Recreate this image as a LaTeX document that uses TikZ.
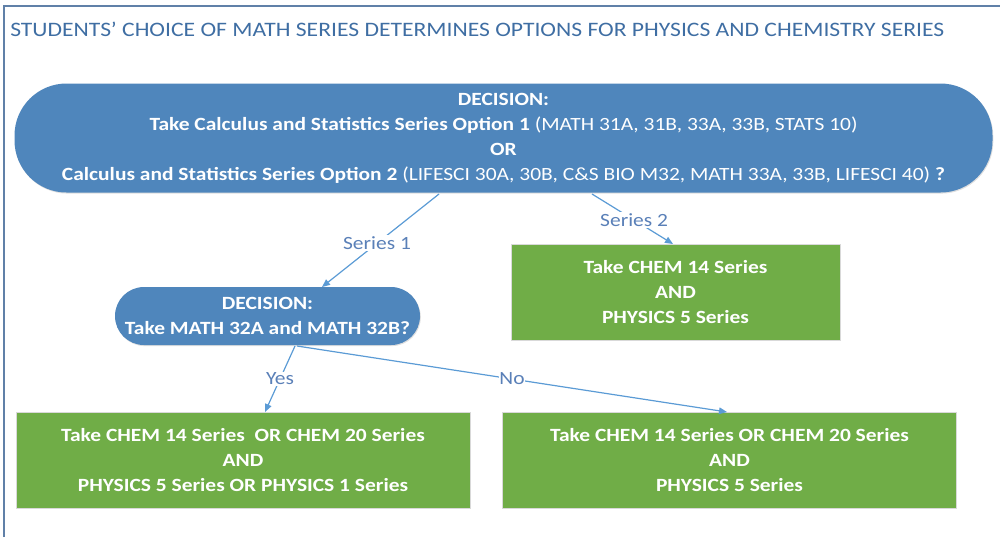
\documentclass[tikz,border=0pt]{standalone}
\usepackage{fontspec}
\setmainfont[FakeStretch=1.15]{Carlito}
\usetikzlibrary{shadows,arrows.meta}
\definecolor{frameblue}{HTML}{6080A8}
\definecolor{titleblue}{HTML}{3F6EA3}
\definecolor{pillblue}{HTML}{4F86BC}
\definecolor{boxgreen}{HTML}{70AD47}
\definecolor{linkblue}{HTML}{5B9BD5}
\definecolor{labelblue}{HTML}{5A80B8}
\tikzset{
  decision/.style={fill=pillblue, text=white, font=\bfseries\fontsize{14}{18.75}\selectfont, align=center, inner sep=0pt,
    drop shadow={opacity=0.25, shadow xshift=0.6pt, shadow yshift=-0.8pt}},
  greenbox/.style={fill=boxgreen, text=white, font=\bfseries\fontsize{14}{18.75}\selectfont, align=center, inner sep=0pt,
    draw=black!15, line width=0.4pt,
    drop shadow={opacity=0.2, shadow xshift=0.6pt, shadow yshift=-0.8pt}},
  link/.style={draw=linkblue, line width=0.9pt, -{Triangle[length=6pt,width=5pt]}},
  linklabel/.style={text=labelblue, font=\fontsize{14}{16}\selectfont, fill=white, inner sep=1pt},
}
\begin{document}
\begin{tikzpicture}[x=0.75pt,y=-0.75pt]
\useasboundingbox (0,0) rectangle (1002,537);
% frame
\draw[frameblue, line width=1pt] (4,537) -- (4,6) -- (1000,6);
% title
\node[anchor=west, text=titleblue, font=\fontsize{15.4}{18}\selectfont, inner sep=0pt] (title) at (10,29)
  {STUDENTS’ CHOICE OF MATH SERIES DETERMINES OPTIONS FOR PHYSICS AND CHEMISTRY SERIES};
% big decision
\node[decision, minimum width=733.5pt, minimum height=81.75pt, rounded corners=39pt] (d1) at (503.5,138)
  {DECISION:\\
   Take Calculus and Statistics Series Option 1 {\mdseries(MATH 31A, 31B, 33A, 33B, STATS 10)}\\
   OR\\
   Calculus and Statistics Series Option 2 {\mdseries(LIFESCI 30A, 30B, C\&S BIO M32, MATH 33A, 33B, LIFESCI 40)} ?};
% second decision
\node[decision, minimum width=228.75pt, minimum height=43.5pt, rounded corners=21.7pt] (d2) at (267.5,316)
  {DECISION:\\ Take MATH 32A and MATH 32B?};
% green boxes
\node[greenbox, minimum width=246.75pt, minimum height=72pt] (g1) at (675.5,292)
  {Take CHEM 14 Series\\ AND\\ PHYSICS 5 Series};
\node[greenbox, minimum width=340.5pt, minimum height=72pt] (g2) at (243,460)
  {Take CHEM 14 Series\ \ OR CHEM 20 Series\\ AND\\ PHYSICS 5 Series OR PHYSICS 1 Series};
\node[greenbox, minimum width=340.5pt, minimum height=72pt] (g3) at (729.5,460)
  {Take CHEM 14 Series OR CHEM 20 Series\\ AND\\ PHYSICS 5 Series};
% connector anchors
\coordinate (s1a) at (439,194);
\coordinate (s1b) at (322,287);
\coordinate (s2a) at (592,194);
\coordinate (s2b) at (673,244);
\coordinate (ya) at (295,346);
\coordinate (yb) at (265,412);
\coordinate (na) at (297,346);
\coordinate (nb) at (727,412);
\draw[link] (s1a) -- node[linklabel, pos=0.53] (l1) {Series 1} (s1b);
\draw[link] (s2a) -- node[linklabel, pos=0.52] (l2) {Series 2} (s2b);
\draw[link] (ya) -- node[linklabel, pos=0.5] (l3) {Yes} (yb);
\draw[link] (na) -- node[linklabel, pos=0.5, inner sep=0pt] (l4) {No} (nb);
\end{tikzpicture}
\end{document}
